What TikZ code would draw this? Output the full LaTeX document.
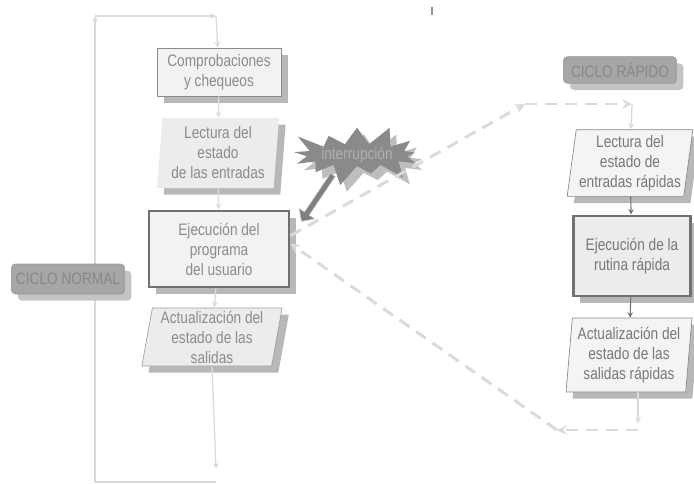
\documentclass[tikz,border=0pt]{standalone}
\usepackage{fontspec}
\setmainfont{Liberation Sans}[FakeStretch=0.82]
\usepackage{tikz}
\usetikzlibrary{shapes,arrows,shadows}

\definecolor{txtgray}{RGB}{140,140,140}
\definecolor{linegray}{RGB}{218,218,218}
\definecolor{shadgray}{RGB}{184,184,184}
\definecolor{darkline}{RGB}{112,112,112}
\definecolor{taggray}{RGB}{166,166,166}

\tikzset{
  boxshadow/.style={drop shadow={shadow xshift=5pt,shadow yshift=-5pt,fill=shadgray,opacity=1}},
  box/.style={rectangle,draw={rgb,255:red,140;green,140;blue,140},fill={rgb,255:red,242;green,242;blue,242},
    text=txtgray,align=center,inner sep=1pt,boxshadow},
  mainbox/.style={box,draw=darkline,line width=2.2pt},
  iobox/.style={trapezium,trapezium stretches=true,draw={rgb,255:red,160;green,160;blue,160},line width=0.5pt,
    fill={rgb,255:red,236;green,236;blue,236},text=txtgray,align=center,inner xsep=1pt,inner ysep=0pt,boxshadow},
  tagbox/.style={rectangle,rounded corners=3pt,fill=taggray,draw={rgb,255:red,150;green,150;blue,150},
    text={rgb,255:red,136;green,136;blue,136},inner sep=1pt,
    drop shadow={shadow xshift=5pt,shadow yshift=-5pt,fill={rgb,255:red,196;green,196;blue,196},opacity=1}},
  flow/.style={draw=linegray,line width=1pt,>=stealth},
  darkflow/.style={draw=darkline,line width=0.8pt,>=stealth},
  dashflow/.style={draw=linegray,line width=2.2pt,dash pattern={on 9pt off 6pt},>=stealth}
}

\begin{document}
\begin{tikzpicture}[x=0.75pt,y=0.75pt,yscale=-1,xscale=1,font=\fontsize{12.5}{15}\selectfont]
    \useasboundingbox (0,0) rectangle (694,483);

    % Normal cycle
    \node [box,minimum width=93pt,minimum height=36pt] (comp) at (219,72) {Comprobaciones\\y chequeos};
    \node [iobox,draw=none,trapezium left angle=85,trapezium right angle=95,minimum width=92pt,minimum height=52.5pt] (lect) at (218,153) {Lectura del\\estado\\de las entradas};
    \node [mainbox,minimum width=105pt,minimum height=57pt] (ejec) at (219,249) {Ejecución del\\programa\\del usuario};
    \node [iobox,trapezium left angle=80,trapezium right angle=100,minimum width=106pt,minimum height=43.5pt] (act) at (212,337) {Actualización del\\estado de las\\salidas};

    % Fast cycle
    \node [tagbox,minimum width=85pt,minimum height=20pt] (rapido) at (620,70) {CICLO RÁPIDO};
    \node [iobox,trapezium left angle=81,trapezium right angle=99,minimum width=94.5pt,minimum height=50pt,
      fill={rgb,255:red,244;green,244;blue,244},draw={rgb,255:red,136;green,136;blue,136},text={rgb,255:red,120;green,120;blue,120}] (lectr) at (630,163) {Lectura del\\estado de\\entradas rápidas};
    \node [mainbox,minimum width=88pt,minimum height=60pt,fill={rgb,255:red,236;green,236;blue,236},text={rgb,255:red,120;green,120;blue,120}] (rutina) at (632,256) {Ejecución de la\\rutina rápida};
    \node [iobox,trapezium left angle=84,trapezium right angle=96,minimum width=94.5pt,minimum height=55.5pt,
      fill={rgb,255:red,244;green,244;blue,244},draw={rgb,255:red,136;green,136;blue,136},text={rgb,255:red,120;green,120;blue,120}] (actr) at (629,355) {Actualización del\\estado de las\\salidas rápidas};

    % Interrupt
    \node [starburst,starburst point height=17pt,starburst points=13,minimum width=92pt,minimum height=48pt,fill={rgb,255:red,138;green,138;blue,138},
      text={rgb,255:red,176;green,176;blue,176},inner sep=0pt,
      drop shadow={shadow xshift=5pt,shadow yshift=-5pt,fill={rgb,255:red,190;green,190;blue,190},opacity=1}] (inter) at (357,155) {interrupción};
    \node [single arrow,single arrow head extend=4pt,minimum width=14pt,minimum height=42pt,inner sep=1.5pt,
      fill={rgb,255:red,128;green,128;blue,128},draw={rgb,255:red,200;green,200;blue,200},rotate=236] (intarr) at (318,197) {};

    % Normal cycle loop
    \coordinate (nbot) at (216,482);
    \coordinate (nleftbot) at (95,482);
    \coordinate (nlefttop) at (95,16);
    \coordinate (ntop) at (216,16);
    \draw [flow,->] (comp) -- (lect);
    \draw [flow,->] (lect) -- (ejec);
    \draw [flow,->] (ejec) -- (act);
    \draw [flow,->] (act.south) -- ([yshift=-10]nbot);
    \draw [flow,->] (nbot) -- (nleftbot) -- (nlefttop);
    \draw [flow,->] (nlefttop) -- (ntop);
    \draw [flow,->] (ntop) -- (comp);
    % label over the loop line
    \node [tagbox,minimum width=85pt,minimum height=22.5pt] (normal) at (68,279) {CICLO NORMAL};

    % Jump to the fast cycle and back
    \coordinate (jup) at (525,104);
    \coordinate (jupr) at (632,104);
    \coordinate (jdown) at (638,430);
    \coordinate (jdownl) at (557,430);
    \draw [dashflow,->] ([yshift=-10]ejec.east) -- (jup);
    \draw [dashflow,->] (jup) -- (jupr);
    \draw [flow,->] (jupr) -- (lectr);
    \draw [darkflow,->] (lectr) -- (rutina);
    \draw [darkflow,->] (rutina) -- (actr);
    \draw [flow,->] (actr.south -| jdown) -- ([yshift=-5]jdown);
    \draw [dashflow,->] (jdown) -- (jdownl);
    \draw [dashflow,->] (jdownl) -- ([yshift=-4]ejec.east);

    % Mark at top
    \draw [line width=1.5pt,draw={rgb,255:red,150;green,150;blue,150}] (432,7) -- (432,15);
\end{tikzpicture}
\end{document}
